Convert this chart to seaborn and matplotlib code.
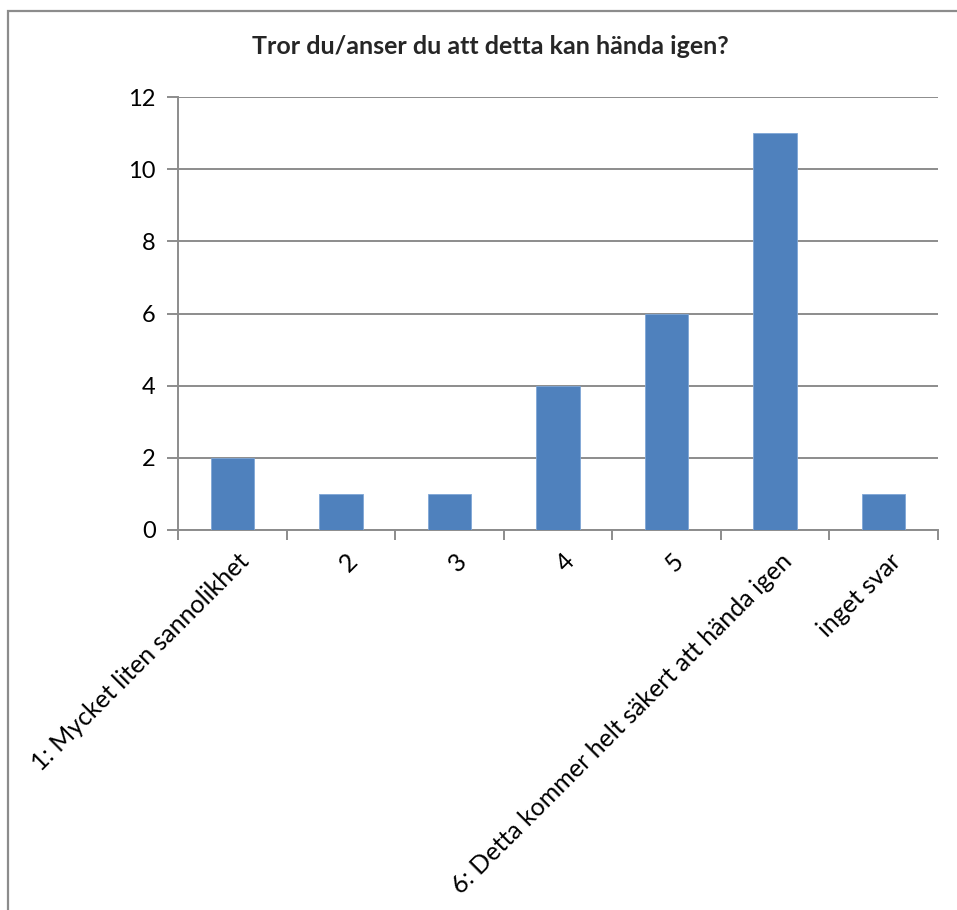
import matplotlib
matplotlib.use("Agg")
import matplotlib.pyplot as plt
import matplotlib.transforms as mtransforms
import pandas as pd
import seaborn as sns

# Survey answers
categories = ["1: Mycket liten sannolikhet", "2", "3", "4", "5",
              "6: Detta kommer helt säkert att hända igen", "inget svar"]
counts = [2, 1, 1, 4, 6, 11, 1]
title = "Tror du/anser du att detta kan hända igen?"

df = pd.DataFrame({"category": categories, "count": counts})

sns.set_theme(style="white")
plt.rcParams["font.family"] = ["Lato", "DejaVu Sans"]

W, H = 957, 910
fig = plt.figure(figsize=(W / 100, H / 100), dpi=100)
ax = fig.add_axes([178 / W, 1 - 530 / H, (938 - 178) / W, (530 - 97) / H])

sns.barplot(data=df, x="category", y="count", color="#4F81BD", saturation=1,
            width=0.4, ax=ax, edgecolor="#7FA7D6", linewidth=0.6, zorder=3)

ax.set_ylim(0, 12)
ax.set_xlim(-0.5, len(categories) - 0.5)
ax.set_yticks(range(0, 13, 2))
ax.yaxis.grid(True, color="#8C8C8C", linewidth=1.4, zorder=0)
ax.set_axisbelow(True)
ax.set_xlabel("")
ax.set_ylabel("")

for side in ["top", "right"]:
    ax.spines[side].set_visible(False)
for side in ["left", "bottom"]:
    ax.spines[side].set_color("#8C8C8C")
    ax.spines[side].set_linewidth(1.4)

ax.tick_params(axis="y", left=True, length=8, width=1.4, color="#8C8C8C",
               labelsize=17, pad=8, labelcolor="black")
# category boundary ticks on x axis
ax.set_xticks([i - 0.5 for i in range(len(categories) + 1)], minor=True)
ax.tick_params(axis="x", which="minor", bottom=True, length=7, width=1.4,
               color="#8C8C8C")
ax.set_xticks(range(len(categories)))
ax.set_xticklabels(categories)
ax.tick_params(axis="x", which="major", bottom=False, labelsize=18, pad=8,
               labelcolor="black")
offset = mtransforms.ScaledTranslation(0.05, 0, fig.dpi_scale_trans)
for lab in ax.get_xticklabels():
    lab.set_rotation(45)
    lab.set_ha("right")
    lab.set_va("top")
    lab.set_rotation_mode("anchor")
    lab.set_transform(lab.get_transform() + offset)

fig.text(490 / W, 1 - 47 / H, title, ha="center", va="center",
         fontsize=18, fontweight="bold")

# chart frame (left and top edges visible)
frame = plt.Rectangle((8 / W, -0.1), 1.2, 1 - 11 / H + 0.1,
                      transform=fig.transFigure, fill=False,
                      edgecolor="#8C8C8C", linewidth=1.6)
fig.add_artist(frame)

fig.savefig("out.png", dpi=100)
